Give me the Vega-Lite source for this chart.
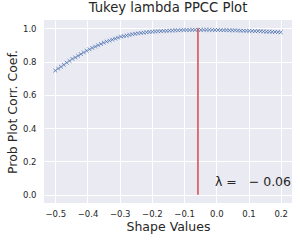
{
  "$schema": "https://vega.github.io/schema/vega-lite/v6.json",
  "width": 248,
  "height": 183,
  "autosize": {"type": "none"},
  "padding": {"left": 44, "top": 20, "right": 8, "bottom": 39},
  "background": "white",
  "title": {"text": "Tukey lambda PPCC Plot", "font": "DejaVu Sans", "fontSize": 13.2, "fontWeight": "normal", "color": "#262626", "anchor": "middle", "baseline": "alphabetic", "offset": -5.5, "frame": "group"},
  "config": {
    "view": {"fill": "#EAEAF2", "stroke": null},
    "axis": {
      "labelFont": "DejaVu Sans", "labelFontSize": 8.5, "labelColor": "#262626", "labelOverlap": false,
      "titleFont": "DejaVu Sans", "titleFontSize": 12.5, "titleFontWeight": "normal", "titleColor": "#262626",
      "grid": true, "gridColor": "#FFFFFF", "gridWidth": 1, "gridOpacity": 1,
      "domain": false, "ticks": false
    }
  },
  "datasets": {
    "ppcc": [
      {"shape": -0.5, "ppcc": 0.746}, {"shape": -0.49114, "ppcc": 0.758}, {"shape": -0.48228, "ppcc": 0.769}, {"shape": -0.47342, "ppcc": 0.781},
      {"shape": -0.46456, "ppcc": 0.793}, {"shape": -0.4557, "ppcc": 0.804}, {"shape": -0.44684, "ppcc": 0.816}, {"shape": -0.43797, "ppcc": 0.825},
      {"shape": -0.42911, "ppcc": 0.835}, {"shape": -0.42025, "ppcc": 0.845}, {"shape": -0.41139, "ppcc": 0.855}, {"shape": -0.40253, "ppcc": 0.865},
      {"shape": -0.39367, "ppcc": 0.874}, {"shape": -0.38481, "ppcc": 0.882}, {"shape": -0.37595, "ppcc": 0.89}, {"shape": -0.36709, "ppcc": 0.898},
      {"shape": -0.35823, "ppcc": 0.906}, {"shape": -0.34937, "ppcc": 0.914}, {"shape": -0.34051, "ppcc": 0.92}, {"shape": -0.33165, "ppcc": 0.926},
      {"shape": -0.32278, "ppcc": 0.932}, {"shape": -0.31392, "ppcc": 0.938}, {"shape": -0.30506, "ppcc": 0.944}, {"shape": -0.2962, "ppcc": 0.95},
      {"shape": -0.28734, "ppcc": 0.953}, {"shape": -0.27848, "ppcc": 0.957}, {"shape": -0.26962, "ppcc": 0.96}, {"shape": -0.26076, "ppcc": 0.964},
      {"shape": -0.2519, "ppcc": 0.967}, {"shape": -0.24304, "ppcc": 0.97}, {"shape": -0.23418, "ppcc": 0.972}, {"shape": -0.22532, "ppcc": 0.974},
      {"shape": -0.21646, "ppcc": 0.976}, {"shape": -0.20759, "ppcc": 0.978}, {"shape": -0.19873, "ppcc": 0.98}, {"shape": -0.18987, "ppcc": 0.981},
      {"shape": -0.18101, "ppcc": 0.982}, {"shape": -0.17215, "ppcc": 0.983}, {"shape": -0.16329, "ppcc": 0.984}, {"shape": -0.15443, "ppcc": 0.985},
      {"shape": -0.14557, "ppcc": 0.986}, {"shape": -0.13671, "ppcc": 0.987}, {"shape": -0.12785, "ppcc": 0.988}, {"shape": -0.11899, "ppcc": 0.988},
      {"shape": -0.11013, "ppcc": 0.989}, {"shape": -0.10127, "ppcc": 0.99}, {"shape": -0.09241, "ppcc": 0.99}, {"shape": -0.08354, "ppcc": 0.99},
      {"shape": -0.07468, "ppcc": 0.991}, {"shape": -0.06582, "ppcc": 0.991}, {"shape": -0.05696, "ppcc": 0.991}, {"shape": -0.0481, "ppcc": 0.991},
      {"shape": -0.03924, "ppcc": 0.991}, {"shape": -0.03038, "ppcc": 0.991}, {"shape": -0.02152, "ppcc": 0.991}, {"shape": -0.01266, "ppcc": 0.99},
      {"shape": -0.0038, "ppcc": 0.99}, {"shape": 0.00506, "ppcc": 0.99}, {"shape": 0.01392, "ppcc": 0.989}, {"shape": 0.02278, "ppcc": 0.989},
      {"shape": 0.03165, "ppcc": 0.989}, {"shape": 0.04051, "ppcc": 0.988}, {"shape": 0.04937, "ppcc": 0.988}, {"shape": 0.05823, "ppcc": 0.988},
      {"shape": 0.06709, "ppcc": 0.987}, {"shape": 0.07595, "ppcc": 0.986}, {"shape": 0.08481, "ppcc": 0.986}, {"shape": 0.09367, "ppcc": 0.985},
      {"shape": 0.10253, "ppcc": 0.985}, {"shape": 0.11139, "ppcc": 0.984}, {"shape": 0.12025, "ppcc": 0.983}, {"shape": 0.12911, "ppcc": 0.983},
      {"shape": 0.13797, "ppcc": 0.982}, {"shape": 0.14684, "ppcc": 0.981}, {"shape": 0.1557, "ppcc": 0.98}, {"shape": 0.16456, "ppcc": 0.98},
      {"shape": 0.17342, "ppcc": 0.979}, {"shape": 0.18228, "ppcc": 0.978}, {"shape": 0.19114, "ppcc": 0.977}, {"shape": 0.2, "ppcc": 0.976}
    ],
    "best": [{"shape": -0.057, "ppcc": 0, "ppcc_end": 1}],
    "label": [{"shape": 0.232, "ppcc": 0.05, "text": "λ = \u00a0\u00a0− 0.06"}]
  },
  "layer": [
    {
      "data": {"name": "ppcc"},
      "mark": {"type": "point", "shape": "M-1,-1L1,1M-1,1L1,-1", "filled": false, "size": 14, "strokeWidth": 0.8, "color": "#4C72B0", "opacity": 1},
      "encoding": {
        "x": {"field": "shape", "type": "quantitative", "scale": {"domain": [-0.535, 0.235], "nice": false, "zero": false},
              "axis": {"title": "Shape Values", "tickCount": 8, "format": ".1f", "labelPadding": 6, "titlePadding": 3, "labelOverlap": false, "labelFlush": false, "labelBound": false}},
        "y": {"field": "ppcc", "type": "quantitative", "scale": {"domain": [-0.05, 1.05], "nice": false, "zero": false},
              "axis": {"title": "Prob Plot Corr. Coef.", "tickCount": 6, "format": ".1f", "labelPadding": 8, "titlePadding": 3, "labelOverlap": false, "labelFlush": false, "labelBound": false}}
      }
    },
    {
      "data": {"name": "best"},
      "mark": {"type": "rule", "color": "#D9484A", "strokeWidth": 1.5},
      "encoding": {
        "x": {"field": "shape", "type": "quantitative"},
        "y": {"field": "ppcc", "type": "quantitative"},
        "y2": {"field": "ppcc_end"}
      }
    },
    {
      "data": {"name": "label"},
      "mark": {"type": "text", "align": "right", "baseline": "alphabetic", "font": "DejaVu Sans", "fontSize": 12.5, "color": "#262626"},
      "encoding": {
        "x": {"field": "shape", "type": "quantitative"},
        "y": {"field": "ppcc", "type": "quantitative"},
        "text": {"field": "text"}
      }
    }
  ]
}
